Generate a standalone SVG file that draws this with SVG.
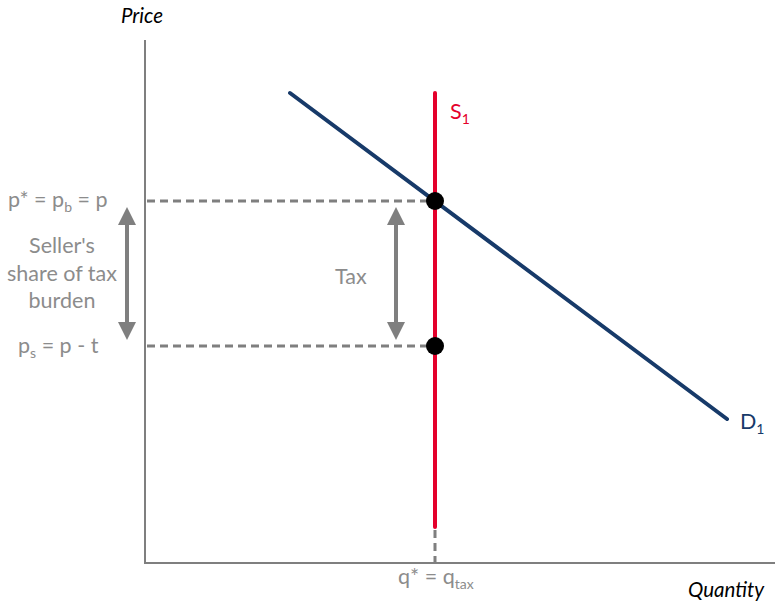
<svg xmlns="http://www.w3.org/2000/svg" width="778" height="606" viewBox="0 0 778 606">
<style>
text{font-family:Lato,"Open Sans",sans-serif;font-size:21.5px;fill:#8c8c8c}
.ax{stroke:#7f7f7f;stroke-width:2;fill:none}
.dash{stroke:#7f7f7f;stroke-width:3;stroke-dasharray:8,5;fill:none}
.arr{stroke:#7f7f7f;stroke-width:4;fill:none}
.it{font-style:italic;fill:#000;font-size:20.5px}
.sub{font-size:14px}
</style>
<defs>
<marker id="ah" viewBox="0 0 10 10" refX="5" refY="5" markerWidth="4.5" markerHeight="4.5" orient="auto-start-reverse" markerUnits="strokeWidth">
<path d="M0,0 L10,5 L0,10 z" fill="#7f7f7f"/>
</marker>
</defs>
<g id="axes">
<line class="ax" x1="145" y1="40" x2="145" y2="563"/>
<line class="ax" x1="144" y1="563" x2="775" y2="563"/>
<text class="it" x="121" y="23">Price</text>
<text class="it" x="688" y="597">Quantity</text>
</g>
<g id="connectors">
<line class="dash" x1="147" y1="201" x2="432" y2="201"/>
<line class="dash" x1="147" y1="346" x2="432" y2="346"/>
<line class="dash" x1="435" y1="530" x2="435" y2="562"/>
<line class="arr" x1="127" y1="216" x2="127" y2="331" marker-start="url(#ah)" marker-end="url(#ah)"/>
<line class="arr" x1="396" y1="216" x2="396" y2="331" marker-start="url(#ah)" marker-end="url(#ah)"/>
</g>
<g id="demand">
<line x1="290" y1="93" x2="727" y2="419" stroke="#173a69" stroke-width="4" stroke-linecap="round"/>
<text x="740" y="429" style="fill:#173a69">D<tspan class="sub" dy="5">1</tspan></text>
</g>
<g id="supply">
<line x1="435" y1="93" x2="435" y2="527" stroke="#e4002b" stroke-width="4" stroke-linecap="round"/>
<text x="450" y="119" style="fill:#e4002b">S<tspan class="sub" dy="5">1</tspan></text>
</g>
<g id="eq-point">
<circle cx="435" cy="201" r="9" fill="#000"/>
</g>
<g id="seller-point">
<circle cx="435" cy="346" r="9" fill="#000"/>
</g>
<g id="labels">
<text x="8" y="207">p* = p<tspan class="sub" dy="5">b</tspan><tspan dy="-5"> = p</tspan></text>
<text x="62" y="253" text-anchor="middle">Seller's</text>
<text x="62" y="281" text-anchor="middle">share of tax</text>
<text x="62" y="308" text-anchor="middle">burden</text>
<text x="18" y="353">p<tspan class="sub" dy="5">s</tspan><tspan dy="-5"> = p - t</tspan></text>
<text x="335" y="284">Tax</text>
<text x="398" y="584">q* = q<tspan class="sub" dy="5">tax</tspan></text>
</g>
</svg>
